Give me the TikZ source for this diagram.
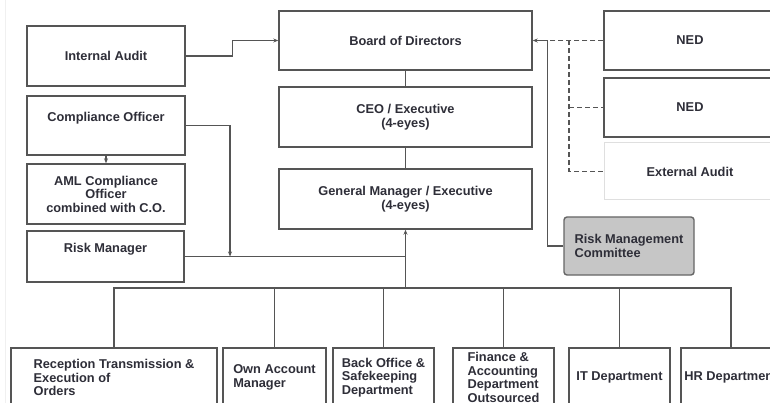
\documentclass[tikz,border=0pt]{standalone}
\usepackage{fontspec}
\setmainfont{Liberation Sans}
\usepackage{xcolor}
\usepackage{tikz}
\usetikzlibrary{arrows.meta, positioning}

\definecolor{linegray}{HTML}{555555}
\definecolor{txtgray}{HTML}{2E2E38}
\definecolor{rmcfill}{HTML}{C6C6C6}

\begin{document}
\begin{tikzpicture}[x=1pt, y=-1pt,
  box/.style={draw=linegray, line width=1.4pt, fill=white, text=txtgray,
    font=\fontsize{12.8}{13.5}\selectfont\bfseries, inner sep=2pt},
  lbox/.style={box, align=left},
  arr/.style={-{Stealth[length=5pt,width=4pt]}},
  conn/.style={draw=linegray, line width=1.2pt},
  dash line/.style={conn, dash pattern=on 5pt off 3pt}]
\useasboundingbox (0,0) rectangle (770,403);
\clip (0,0) rectangle (770,403);
\draw[gray!12] (5,0) -- (5,403);

% left column
\node[box, minimum width=158pt, minimum height=60pt] (ia) at (106,56) {Internal Audit};
\node[box, minimum width=158pt, minimum height=59pt, text height=9pt, text depth=17pt] (co) at (106,125.5) {Compliance Officer};
\node[box, align=center, minimum width=158pt, minimum height=60pt] (aml) at (106,194) {AML Compliance\\Officer\\combined with C.O.};
\node[box, minimum width=157pt, minimum height=51pt, text height=9pt, text depth=17pt] (rm) at (105.5,256.5) {Risk Manager};

% middle column
\node[box, minimum width=253pt, minimum height=59pt] (bod) at (405.5,40.5) {Board of Directors};
\node[box, align=center, minimum width=253pt, minimum height=60pt] (ceo) at (405.5,117) {CEO / Executive\\(4-eyes)};
\node[box, align=center, minimum width=253pt, minimum height=60pt] (gm) at (405.5,199) {General Manager / Executive\\(4-eyes)};

% right column
\node[box, minimum width=172pt, minimum height=59pt] (ned1) at (690,40.5) {NED};
\node[box, minimum width=172pt, minimum height=59pt] (ned2) at (690,107.5) {NED};
\node[box, draw=gray!25, line width=1pt, minimum width=172pt, minimum height=57pt] (ea) at (690,171.5) {External Audit};
\node[lbox, fill=rmcfill, draw=gray!80!black, rounded corners=3pt, minimum width=130pt, minimum height=58pt] (rmc) at (629,246) {Risk Management\\Committee};

% departments
\node[lbox, minimum width=206pt, minimum height=59pt] (rte) at (114,377.5) {Reception Transmission \&\\Execution of\\Orders};
\node[lbox, minimum width=103pt, minimum height=59pt] (oam) at (274.5,377.5) {Own Account\\Manager};
\node[lbox, minimum width=101pt, minimum height=59pt] (bos) at (383.5,377.5) {Back Office \&\\Safekeeping\\Department};
\node[lbox, minimum width=101pt, minimum height=59pt] (fad) at (503.5,377.5) {Finance \&\\Accounting\\Department\\Outsourced};
\node[lbox, minimum width=101pt, minimum height=59pt] (itd) at (619.5,377.5) {IT Department};
\node[lbox, minimum width=100pt, minimum height=59pt] (hrd) at (731,377.5) {HR Department};

\coordinate (rmjoin) at (230,256.5);
\coordinate (bus) at (405.5,288);
\coordinate (nedbus) at (569,40.5);

% connectors
\draw[conn, arr] (ia.east) -- ++(47,0) |- (bod.west);
\draw[conn, arr] (co) -- (aml);
\draw[conn, arr] (co.east) -| (rmjoin);
\draw[conn] (rm.east) -- (gm.south |- rm.east);
\draw[conn] (bod) -- (ceo);
\draw[conn] (ceo) -- (gm);
\draw[conn, arr] (bus) -- (gm.south);
\draw[conn] (rte.north) |- (bus) -| (hrd.north);
\foreach \dep in {oam, bos, fad, itd}
  \draw[conn] (\dep.north) -- (\dep.north |- bus);
\draw[conn, arr] (rmc.west) -- ++(-16,0) |- (bod.east);
\draw[dash line] (ned1.west) -- (nedbus) -- ++(-21,0);
\draw[dash line] (nedbus) |- (ea.west);
\draw[dash line] (nedbus |- ned2.west) -- (ned2.west);
\end{tikzpicture}
\end{document}
